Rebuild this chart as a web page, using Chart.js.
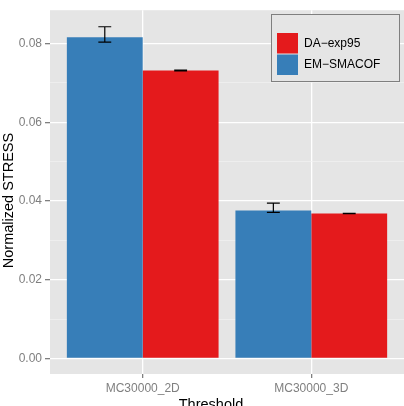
<!DOCTYPE html>
<html>
<head>
<meta charset="utf-8">
<script src="https://cdn.jsdelivr.net/npm/chart.js@4"></script>
<style>
  html, body { margin: 0; padding: 0; background: #fff; overflow: hidden; }
  #wrap { width: 404px; height: 406px; overflow: hidden; }
</style>
</head>
<body>
<div id="wrap"><canvas id="myChart" width="404" height="420"></canvas></div>
<script>
// data
const categories = ["MC30000_2D", "MC30000_3D"];
const emValues = [0.0816, 0.0376];
const emLow    = [0.0804, 0.0371];
const emHigh   = [0.0843, 0.03945];
const daValues = [0.0732, 0.03685];
const daLow    = [0.0731, 0.0368];
const daHigh   = [0.0733, 0.0369];
const yMajorTicks = [0, 0.02, 0.04, 0.06, 0.08];
const yMinorTicks = [0.01, 0.03, 0.05, 0.07];
const yTickLabels = ["0.00", "0.02", "0.04", "0.06", "0.08"];

const FONT = "'Liberation Sans', Arial, sans-serif";

const isMajor = (v) => yMajorTicks.some((m) => Math.abs(m - v) < 1e-9);

// grey panel like ggplot
const panelBackground = {
  id: "panelBackground",
  beforeDraw(chart) {
    const { ctx, chartArea: a } = chart;
    ctx.save();
    ctx.fillStyle = "#e5e5e5";
    ctx.fillRect(a.left, a.top, a.right - a.left, a.bottom - a.top);
    ctx.restore();
  }
};

const errorBars = {
  id: "errorBars",
  afterDatasetsDraw(chart) {
    const ctx = chart.ctx;
    const yScale = chart.scales.y;
    chart.data.datasets.forEach((ds, i) => {
      const meta = chart.getDatasetMeta(i);
      meta.data.forEach((bar, j) => {
        const top = yScale.getPixelForValue(ds.errHigh[j]);
        const bot = yScale.getPixelForValue(ds.errLow[j]);
        const half = bar.width * 0.085;
        ctx.save();
        ctx.strokeStyle = "#000";
        ctx.lineWidth = 1.2;
        ctx.beginPath();
        ctx.moveTo(bar.x, top); ctx.lineTo(bar.x, bot);
        ctx.moveTo(bar.x - half, top); ctx.lineTo(bar.x + half, top);
        ctx.moveTo(bar.x - half, bot); ctx.lineTo(bar.x + half, bot);
        ctx.stroke();
        ctx.restore();
      });
    });
  }
};

// legend box in the top right corner, reversed order like the original
const boxLegend = {
  id: "boxLegend",
  afterDraw(chart) {
    const ctx = chart.ctx;
    ctx.save();
    ctx.fillStyle = "#e5e5e5";
    ctx.fillRect(271.5, 14.5, 128, 67);
    ctx.strokeStyle = "#7f7f7f";
    ctx.lineWidth = 1;
    ctx.strokeRect(271.5, 14.5, 128, 67);
    const items = chart.data.datasets.slice().reverse();
    items.forEach((ds, k) => {
      const top = 33 + k * 21.5;
      ctx.fillStyle = ds.backgroundColor;
      ctx.fillRect(277, top, 21, 20.5);
      ctx.fillStyle = "#000";
      ctx.font = "12px " + FONT;
      ctx.textAlign = "left";
      ctx.textBaseline = "middle";
      ctx.fillText(ds.label, 304, top + 10.5);
    });
    ctx.restore();
  }
};

const axisTitles = {
  id: "axisTitles",
  afterDraw(chart) {
    const ctx = chart.ctx;
    ctx.save();
    ctx.fillStyle = "#000";
    ctx.font = "14.5px " + FONT;
    ctx.textAlign = "center";
    ctx.textBaseline = "alphabetic";
    ctx.fillText("Threshold", 211, 408.5);
    ctx.translate(13.3, 200.5);
    ctx.rotate(-Math.PI / 2);
    ctx.fillText("Normalized STRESS", 0, 0);
    ctx.restore();
  }
};

const ctx = document.getElementById("myChart");

new Chart(ctx, {
  type: "bar",
  data: {
    datasets: [
      {
        label: "EM\u2212SMACOF",
        data: categories.map((c, i) => ({ x: i, y: emValues[i] })),
        errLow: emLow,
        errHigh: emHigh,
        backgroundColor: "#377eb8",
        borderWidth: 0
      },
      {
        label: "DA\u2212exp95",
        data: categories.map((c, i) => ({ x: i, y: daValues[i] })),
        errLow: daLow,
        errHigh: daHigh,
        backgroundColor: "#e41a1c",
        borderWidth: 0
      }
    ]
  },
  options: {
    responsive: false,
    animation: false,
    layout: { padding: { top: 7, right: 0, left: 0, bottom: 0 } },
    plugins: {
      legend: { display: false },
      tooltip: { enabled: false }
    },
    datasets: {
      bar: { categoryPercentage: 0.9, barPercentage: 1.0 }
    },
    scales: {
      x: {
        type: "linear",
        min: -0.55,
        max: 1.55,
        offset: false,
        afterBuildTicks: (scale) => {
          scale.ticks = categories.map((c, i) => ({ value: i }));
        },
        afterFit: (scale) => { scale.height = 46; },
        border: { display: false },
        grid: {
          offset: false,
          color: "#ffffff",
          lineWidth: 1.3,
          tickColor: "#7f7f7f",
          tickLength: 4
        },
        ticks: {
          padding: 3,
          color: "#7f7f7f",
          font: { family: FONT, size: 12 },
          maxRotation: 0,
          callback: (v) => categories[v]
        }
      },
      y: {
        min: -0.00395,
        max: 0.0885,
        afterBuildTicks: (scale) => {
          scale.ticks = yMajorTicks.concat(yMinorTicks).sort((a, b) => a - b).map((v) => ({ value: v }));
        },
        afterFit: (scale) => { scale.width = 50; },
        border: { display: false },
        grid: {
          color: (c) => (c.tick && isMajor(c.tick.value) ? "#ffffff" : "#f2f2f2"),
          lineWidth: (c) => (c.tick && isMajor(c.tick.value) ? 1.3 : 0.7),
          tickColor: (c) => (c.tick && isMajor(c.tick.value) ? "#7f7f7f" : "rgba(0,0,0,0)"),
          tickLength: 5
        },
        ticks: {
          padding: 3,
          color: "#7f7f7f",
          font: { family: FONT, size: 12 },
          callback: (v) => {
            const idx = yMajorTicks.findIndex((m) => Math.abs(m - v) < 1e-9);
            return idx >= 0 ? yTickLabels[idx] : "";
          }
        }
      }
    }
  },
  plugins: [panelBackground, errorBars, boxLegend, axisTitles]
});
</script>
</body>
</html>
